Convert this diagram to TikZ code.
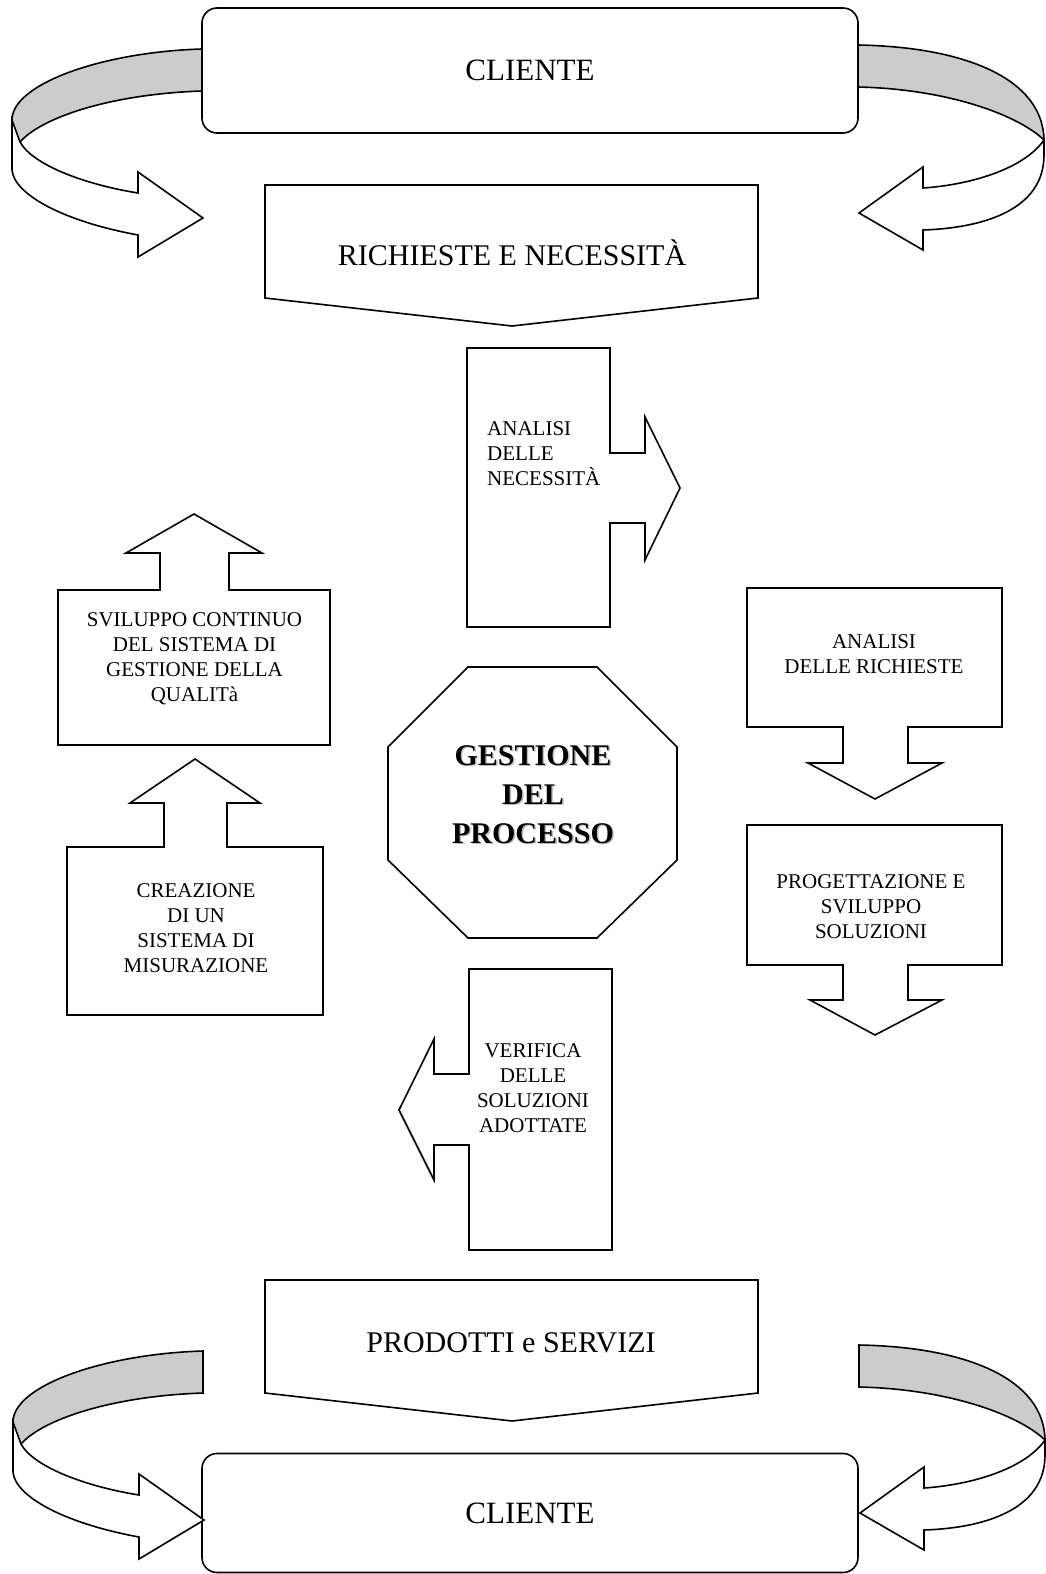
\documentclass[tikz,border=0pt]{standalone}
\usepackage{fontspec}
\setmainfont{Liberation Serif}
\tikzset{
  boxline/.style={draw, line width=1.6pt, fill=white},
  grayband/.style={draw, line width=1.6pt, fill=gray!40},
  whiteband/.style={draw, line width=1.6pt, fill=white},
  bigtxt/.style={font=\fontsize{30}{36}\selectfont, inner sep=0pt, anchor=base},
  smalltxt/.style={font=\fontsize{21}{25}\selectfont, align=center, inner sep=0pt, anchor=north},
  swirlL/.pic={
    \filldraw[grayband] (0,0) .. controls (100,3) and (190,35) .. (190,71) -- (190,93) -- (182,93)
      .. controls (160,68) and (90,45) .. (0,42) -- cycle;
    \filldraw[whiteband] (190,71) -- (190,121) .. controls (188,145) and (140,172) .. (64,186) -- (64,208)
      -- (-1,169) -- (64,123) -- (64,144) .. controls (120,135) and (170,115) .. (182,93) -- cycle;
  },
  swirlR/.pic={
    \filldraw[grayband] (0,0) .. controls (110,2) and (185,35) .. (186,95)
      .. controls (160,70) and (90,44) .. (0,42) -- cycle;
    \filldraw[whiteband] (186,95) -- (186,110) .. controls (186,165) and (125,183) .. (65,185) -- (65,205)
      -- (1,168) -- (65,122) -- (65,143) .. controls (110,140) and (165,125) .. (186,95) -- cycle;
  }
}
\begin{document}
\begin{tikzpicture}[x=1pt, y=-1pt]
  \useasboundingbox (0,0) rectangle (1046,1574);

  \node[boxline, rounded corners=15pt, minimum width=656pt, minimum height=125pt,
    font=\fontsize{31}{36}\selectfont, text depth=0pt] (cli1) at (530,70.5) {CLIENTE};
  \node[boxline, rounded corners=15pt, minimum width=656pt, minimum height=119pt,
    font=\fontsize{31}{36}\selectfont, text depth=0pt] (cli2) at (530,1513) {CLIENTE};

  \pic[xscale=-1] at (202,49) {swirlL};
  \pic at (858,45) {swirlR};
  \pic[xscale=-1] at (203,1351) {swirlL};
  \pic at (859,1345) {swirlR};

  \draw[boxline] (265,185) -- (758,185) -- (758,298) -- (512,326) -- (265,298) -- cycle;
  \node[bigtxt] (rich) at (512,265) {RICHIESTE E NECESSITÀ};

  \draw[boxline] (265,1280) -- (758,1280) -- (758,1393) -- (512,1421) -- (265,1393) -- cycle;
  \node[bigtxt] (prod) at (511,1352) {PRODOTTI e SERVIZI};

  \draw[boxline] (467,348) -- (610,348) -- (610,453) -- (645,453) -- (645,417) -- (680,488)
    -- (645,560) -- (645,523) -- (610,523) -- (610,627) -- (467,627) -- cycle;
  \node[smalltxt, align=left, anchor=north west] (ana) at (487,421) {ANALISI\\DELLE\\NECESSITÀ};

  \draw[boxline] (58,745) -- (58,590) -- (160,590) -- (160,553) -- (126,553) -- (194,514)
    -- (262,553) -- (229,553) -- (229,590) -- (330,590) -- (330,745) -- cycle;
  \node[smalltxt] (svil) at (194.5,612) {SVILUPPO CONTINUO\\DEL SISTEMA DI\\GESTIONE DELLA\\QUALITà};

  \draw[boxline] (67,1015) -- (67,847) -- (164,847) -- (164,803) -- (130,803) -- (195,759)
    -- (260,803) -- (227,803) -- (227,847) -- (323,847) -- (323,1015) -- cycle;
  \node[smalltxt] (crea) at (196,883) {CREAZIONE\\DI UN\\SISTEMA DI\\MISURAZIONE};

  \draw[boxline] (747,588) -- (1002,588) -- (1002,727) -- (908,727) -- (908,763) -- (942,763)
    -- (875,799) -- (808,763) -- (843,763) -- (843,727) -- (747,727) -- cycle;
  \node[smalltxt] (anric) at (874,634) {ANALISI\\DELLE RICHIESTE};

  \draw[boxline] (747,825) -- (1002,825) -- (1002,965) -- (908,965) -- (908,1000) -- (942,1000)
    -- (875,1035) -- (810,1000) -- (843,1000) -- (843,965) -- (747,965) -- cycle;
  \node[smalltxt] (prog) at (871,874) {PROGETTAZIONE E\\SVILUPPO\\SOLUZIONI};

  \draw[boxline] (469,969) -- (612,969) -- (612,1250) -- (469,1250) -- (469,1145) -- (434,1145)
    -- (434,1180) -- (399,1110) -- (434,1039) -- (434,1074) -- (469,1074) -- cycle;
  \node[smalltxt] (ver) at (533,1043) {VERIFICA\\DELLE\\SOLUZIONI\\ADOTTATE};

  \draw[boxline] (468,667) -- (597,667) -- (677,747) -- (677,860) -- (597,938) -- (468,938)
    -- (388,860) -- (388,747) -- cycle;
  \node[font=\bfseries\fontsize{30}{39}\selectfont, align=center, inner sep=0pt, anchor=north,
    text=gray!50] (gestsh) at (534.5,746.5) {GESTIONE\\DEL\\PROCESSO};
  \node[font=\bfseries\fontsize{30}{39}\selectfont, align=center, inner sep=0pt, anchor=north]
    (gest) at (533,745) {GESTIONE\\DEL\\PROCESSO};
\end{tikzpicture}
\end{document}
